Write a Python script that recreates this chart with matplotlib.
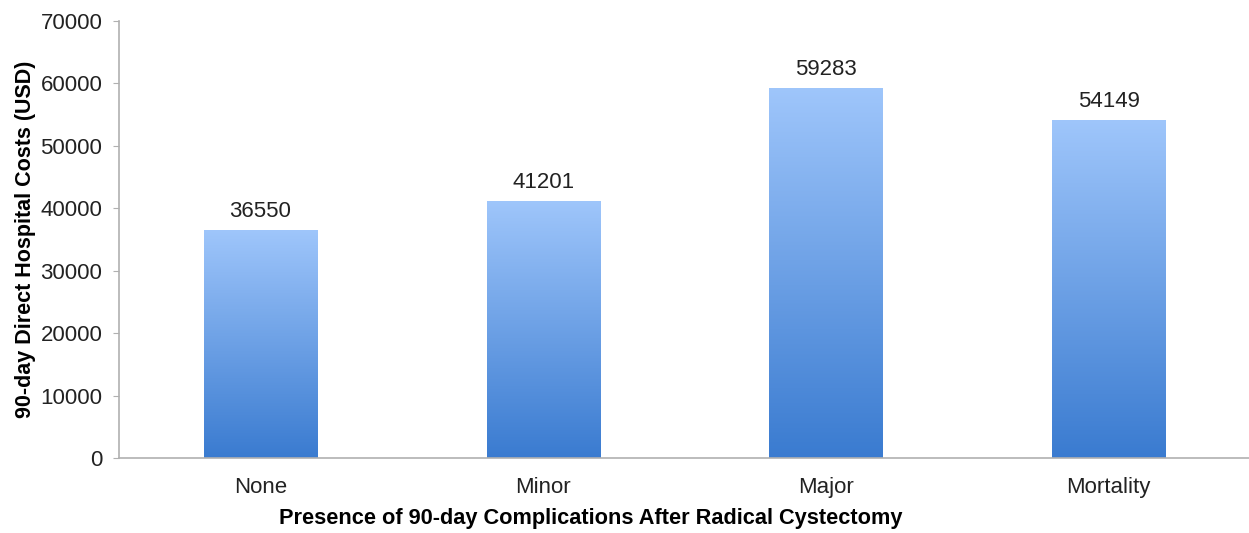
import numpy as np
import matplotlib.pyplot as plt
from matplotlib.colors import LinearSegmentedColormap

categories = ['None', 'Minor', 'Major', 'Mortality']
costs = [36550, 41201, 59283, 54149]

plt.rcParams['font.family'] = ['Liberation Sans', 'DejaVu Sans']

fig = plt.figure(figsize=(12.49, 5.33), dpi=100)
ax = fig.add_axes([119 / 1249, 75 / 533, 1131 / 1249, 437 / 533])

x = np.arange(len(categories))
bars = ax.bar(x, costs, width=0.4, color='none', edgecolor='none')

# vertical gradient, light at top, dark at bottom
cmap = LinearSegmentedColormap.from_list('grad', ['#3a7bd0', '#9fc6fb'])
grad = np.linspace(0, 1, 256).reshape(-1, 1)
for b in bars:
    x0, y0 = b.get_x(), b.get_y()
    w, h = b.get_width(), b.get_height()
    im = ax.imshow(grad, cmap=cmap, origin='lower', aspect='auto',
                   extent=[x0, x0 + w, y0, y0 + h], zorder=2)
    im.set_clip_path(b)
    ax.text(x0 + w / 2, h + 1200, str(int(h)), ha='center', va='bottom',
            fontsize=16, color='#222222')

ax.set_xlim(-0.5, len(categories) - 0.5)
ax.set_ylim(0, 70000)
ax.set_yticks(range(0, 70001, 10000))
ax.set_xticks(x)
ax.set_xticklabels(categories)

for s in ['top', 'right']:
    ax.spines[s].set_visible(False)
for s in ['left', 'bottom']:
    ax.spines[s].set_color('#b0b0b0')
    ax.spines[s].set_linewidth(1.2)
ax.tick_params(axis='y', length=4, color='#b0b0b0', labelsize=16, pad=8, labelcolor='#222222')
ax.tick_params(axis='x', length=0, labelsize=16, pad=14, labelcolor='#222222')

ax.set_ylabel('90-day Direct Hospital Costs (USD)', fontsize=15.5, fontweight='bold', labelpad=3)
ax.set_xlabel('Presence of 90-day Complications After Radical Cystectomy', fontsize=15.7,
              fontweight='bold', labelpad=7)
# the x title sits left of the axes centre in the original
ax.xaxis.set_label_coords(0.417, -0.115)

fig.savefig('out.png', dpi=100)
